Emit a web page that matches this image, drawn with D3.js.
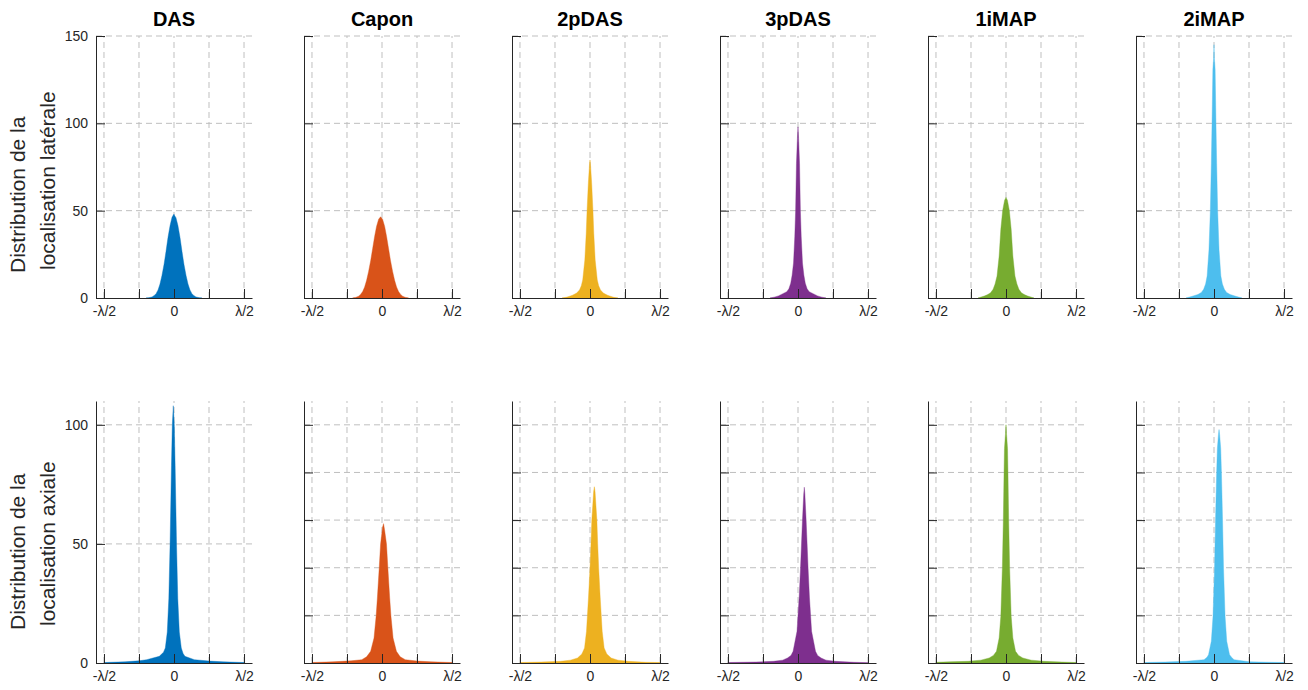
<!DOCTYPE html>
<html>
<head>
<meta charset="utf-8">
<script src="https://cdn.jsdelivr.net/npm/d3@7"></script>
<style>
  html, body { margin: 0; padding: 0; background: #fff; }
  svg { display: block; font-family: "Liberation Sans", Arial, Helvetica, sans-serif; }
</style>
</head>
<body>
<svg id="chart" width="1308" height="690"></svg>
<script>
// ---------------- DATA ----------------
const methods = ["DAS", "Capon", "2pDAS", "3pDAS", "1iMAP", "2iMAP"];
const colors = ["#0072BD", "#D95319", "#EDB120", "#7E2F8E", "#77AC30", "#4DBEEE"];

const rowLabels = [
  ["Distribution de la", "localisation latérale"],
  ["Distribution de la", "localisation axiale"]
];

// x in units of λ
const xTickValues = [-0.5, -0.25, 0, 0.25, 0.5];
const xTickLabels = ["-λ/2", "", "0", "", "λ/2"];

const latYTicks = [0, 50, 100, 150];
const axYTicksFirst = [0, 50, 100];
const axYTicksOthers = [0, 20, 40, 60, 80, 100];

// lateral localisation histograms: [x (λ), count]
const latDAS = [[-0.2,0],[-0.18,0.15],[-0.157,0.6],[-0.143,1.3],[-0.128,2.5],[-0.114,4.6],[-0.1,8],[-0.086,12.9],[-0.071,19.3],[-0.057,26.7],[-0.043,34.6],[-0.028,41.5],[-0.014,46.3],[-0.004,47.6],[0,48],[0.004,47.2],[0.014,46],[0.028,41.5],[0.043,34.6],[0.057,26.7],[0.071,19.3],[0.086,12.9],[0.1,8],[0.114,4.6],[0.128,2.5],[0.143,1.3],[0.157,0.6],[0.18,0.15],[0.2,0]];
const latCapon = [[-0.21,0],[-0.188,0.35],[-0.167,1.06],[-0.153,2.05],[-0.138,3.7],[-0.124,6.3],[-0.11,10.1],[-0.096,15.1],[-0.081,21.3],[-0.067,28.2],[-0.053,35.1],[-0.039,41],[-0.024,45.1],[-0.01,46.5],[0.004,45.1],[0.019,41],[0.033,35.1],[0.047,28.2],[0.061,21.3],[0.076,15.1],[0.09,10.1],[0.104,6.3],[0.118,3.7],[0.133,2.05],[0.147,1.06],[0.168,0.35],[0.19,0]];
const lat2pDAS = [[-0.2,0],[-0.17,0.4],[-0.15,0.9],[-0.125,1.6],[-0.095,2.8],[-0.075,4.6],[-0.062,7],[-0.052,10.3],[-0.037,21.7],[-0.027,37],[-0.021,50],[-0.012,65.6],[-0.004,76],[0,79],[0.004,76],[0.012,65.6],[0.021,50],[0.027,37],[0.037,21.7],[0.052,10.3],[0.062,7],[0.075,4.6],[0.095,2.8],[0.125,1.6],[0.15,0.9],[0.17,0.4],[0.2,0]];
const lat3pDAS = [[-0.2,0],[-0.17,0.5],[-0.14,1.2],[-0.115,2.2],[-0.08,3.6],[-0.065,5.3],[-0.052,8.4],[-0.042,13],[-0.032,20],[-0.023,35],[-0.017,50],[-0.011,77],[-0.004,92],[0,98],[0.004,92],[0.011,77],[0.017,50],[0.023,35],[0.032,20],[0.042,13],[0.052,8.4],[0.065,5.3],[0.08,3.6],[0.115,2.2],[0.14,1.2],[0.17,0.5],[0.2,0]];
const lat1iMAP = [[-0.2,0],[-0.155,1.1],[-0.13,2],[-0.11,3],[-0.092,5],[-0.078,8],[-0.064,12.6],[-0.049,24],[-0.037,39.3],[-0.024,50],[-0.01,56],[0,57.6],[0.01,56],[0.024,50],[0.037,39.3],[0.049,24],[0.064,12.6],[0.078,8],[0.092,5],[0.11,3],[0.13,2],[0.155,1.1],[0.2,0]];
const lat2iMAP = [[-0.2,0],[-0.155,1],[-0.115,2],[-0.09,3.2],[-0.074,5],[-0.06,8],[-0.049,12.6],[-0.036,27.5],[-0.026,50],[-0.019,77],[-0.014,100],[-0.008,131],[-0.002,138],[0,145],[0.002,138],[0.008,131],[0.014,100],[0.019,77],[0.026,50],[0.036,27.5],[0.049,12.6],[0.06,8],[0.074,5],[0.09,3.2],[0.115,2],[0.155,1],[0.2,0]];

// axial localisation histograms: [x (λ), count]
const axDAS = [[-0.5,0.2],[-0.35,0.5],[-0.25,0.9],[-0.195,1.4],[-0.105,2.8],[-0.075,4.5],[-0.062,6.3],[-0.048,13],[-0.037,27],[-0.028,50],[-0.018,83],[-0.012,100],[-0.005,108],[0.002,100],[0.008,83],[0.018,50],[0.027,27],[0.038,13],[0.052,6.3],[0.065,4],[0.078,2.8],[0.145,1.4],[0.25,0.8],[0.35,0.5],[0.5,0.2]];
const axCapon = [[-0.5,0.2],[-0.35,0.5],[-0.22,0.9],[-0.144,1.4],[-0.11,2.6],[-0.081,4.9],[-0.057,10.5],[-0.042,19.6],[-0.033,27.3],[-0.02,39.8],[-0.01,50],[0.004,57],[0.011,58.5],[0.018,56],[0.032,50],[0.042,39.8],[0.055,27.3],[0.064,19.6],[0.079,10.5],[0.103,4.9],[0.13,2.6],[0.166,1.4],[0.25,0.8],[0.35,0.5],[0.5,0.2]];
const ax2pDAS = [[-0.5,0.2],[-0.35,0.4],[-0.209,0.7],[-0.14,1.2],[-0.089,2.1],[-0.058,3.8],[-0.039,6.3],[-0.025,13.3],[-0.011,27.3],[0,39.8],[0.007,50],[0.013,60],[0.026,72],[0.031,74],[0.036,72],[0.049,60],[0.055,50],[0.062,39.8],[0.073,27.3],[0.087,13.3],[0.101,6.3],[0.12,3.8],[0.151,2.1],[0.2,1.2],[0.271,0.7],[0.4,0.3],[0.5,0.2]];
const ax3pDAS = [[-0.5,0.2],[-0.3,0.4],[-0.175,0.7],[-0.11,1.2],[-0.075,2.1],[-0.05,3.2],[-0.035,4.9],[-0.007,13.3],[0.008,27.3],[0.018,39.8],[0.025,50],[0.032,60],[0.041,71],[0.045,73.8],[0.049,71],[0.058,60],[0.065,50],[0.072,39.8],[0.082,27.3],[0.097,13.3],[0.125,4.9],[0.14,3.2],[0.165,2.1],[0.2,1.2],[0.265,0.7],[0.4,0.3],[0.5,0.15]];
const ax1iMAP = [[-0.5,0.3],[-0.4,0.5],[-0.27,0.7],[-0.18,1.2],[-0.12,2.1],[-0.09,3.2],[-0.068,4.9],[-0.049,10.5],[-0.037,19.6],[-0.026,39.8],[-0.019,60],[-0.014,80],[-0.011,90],[-0.004,96],[0,100],[0.004,96],[0.011,90],[0.014,80],[0.019,60],[0.026,39.8],[0.037,19.6],[0.049,10.5],[0.068,4.9],[0.09,3.2],[0.12,2.1],[0.18,1.2],[0.27,0.7],[0.4,0.4],[0.5,0.2]];
const ax2iMAP = [[-0.5,0.2],[-0.35,0.4],[-0.2,0.7],[-0.071,1.4],[-0.05,2.4],[-0.039,3.5],[-0.019,9.1],[-0.007,19.6],[0.004,39.8],[0.011,60],[0.019,80],[0.024,90],[0.032,96],[0.036,98],[0.04,96],[0.048,90],[0.053,80],[0.061,60],[0.068,39.8],[0.079,19.6],[0.091,9.1],[0.111,3.5],[0.125,2.4],[0.143,1.4],[0.25,0.5],[0.4,0.3],[0.5,0.2]];

const latSeries = [latDAS, latCapon, lat2pDAS, lat3pDAS, lat1iMAP, lat2iMAP];
const axSeries = [axDAS, axCapon, ax2pDAS, ax3pDAS, ax1iMAP, ax2iMAP];

// ---------------- LAYOUT ----------------
const svg = d3.select("#chart");
const panelLeft0 = 96, panelStep = 208, panelWidth = 156;
const xDomain = [-0.557, 0.557];
const rows = [
  { top: 36, bottom: 298, yMax: 150, series: latSeries },
  { top: 401, bottom: 663, yMax: 110, series: axSeries }
];
const axisColor = "#262626";
const gridColor = "#bfbfbf";
const fontFam = '"Liberation Sans", Arial, Helvetica, sans-serif';

rows.forEach((row, r) => {
  const y = d3.scaleLinear().domain([0, row.yMax]).range([row.bottom, row.top]);

  methods.forEach((m, i) => {
    const left = panelLeft0 + panelStep * i;
    const x = d3.scaleLinear().domain(xDomain).range([left, left + panelWidth]);
    const g = svg.append("g");

    let yTicks;
    if (r === 0) yTicks = latYTicks;
    else yTicks = (i === 0) ? axYTicksFirst : axYTicksOthers;

    // grid lines
    g.selectAll("line.vg").data(xTickValues).enter().append("line")
      .attr("x1", d => x(d)).attr("x2", d => x(d))
      .attr("y1", row.bottom).attr("y2", row.top)
      .attr("stroke", gridColor).attr("stroke-width", 1)
      .attr("stroke-dasharray", "6,4");
    g.selectAll("line.hg").data(yTicks.filter(t => t > 0)).enter().append("line")
      .attr("x1", left).attr("x2", left + panelWidth)
      .attr("y1", d => y(d)).attr("y2", d => y(d))
      .attr("stroke", gridColor).attr("stroke-width", 1)
      .attr("stroke-dasharray", "6,4");

    // histogram area
    const area = d3.area()
      .x(d => x(d[0]))
      .y0(y(0))
      .y1(d => y(d[1]));
    g.append("path")
      .datum(row.series[i])
      .attr("d", area)
      .attr("fill", colors[i])
      .attr("stroke", colors[i])
      .attr("stroke-width", 0.4);

    // y axis
    const yAxis = d3.axisLeft(y)
      .tickValues(yTicks)
      .tickSizeInner(-9)
      .tickSizeOuter(0)
      .tickPadding(8)
      .tickFormat(d => (i === 0) ? String(d) : "");
    const ya = g.append("g").attr("transform", `translate(${left},0)`).call(yAxis);
    ya.select(".domain").attr("stroke", axisColor);
    ya.selectAll(".tick line").attr("stroke", axisColor);
    ya.selectAll(".tick text").attr("fill", axisColor).style("font-size", "14px")
      .style("font-family", fontFam);

    // x axis
    const xAxis = d3.axisBottom(x)
      .tickValues(xTickValues)
      .tickSizeInner(-9)
      .tickSizeOuter(0)
      .tickPadding(8)
      .tickFormat((d, k) => xTickLabels[k]);
    const xa = g.append("g").attr("transform", `translate(0,${row.bottom})`).call(xAxis);
    xa.select(".domain").attr("stroke", axisColor);
    xa.selectAll(".tick line").attr("stroke", axisColor);
    xa.selectAll(".tick text").attr("fill", axisColor).style("font-size", "14px")
      .style("font-family", fontFam);

    // title
    if (r === 0) {
      svg.append("text")
        .attr("x", left + panelWidth / 2)
        .attr("y", 26)
        .attr("text-anchor", "middle")
        .attr("font-weight", "bold")
        .attr("font-size", 20)
        .attr("fill", "#000")
        .text(m);
    }
  });

  // row y-labels (two lines, rotated)
  const starts = r === 0 ? [273, 270] : [630, 626];
  const baselines = [25, 55];
  rowLabels[r].forEach((t, k) => {
    svg.append("text")
      .attr("transform", `translate(${baselines[k]},${starts[k]}) rotate(-90)`)
      .attr("text-anchor", "start")
      .attr("font-size", 21)
      .attr("fill", axisColor)
      .text(t);
  });
});
</script>
</body>
</html>
